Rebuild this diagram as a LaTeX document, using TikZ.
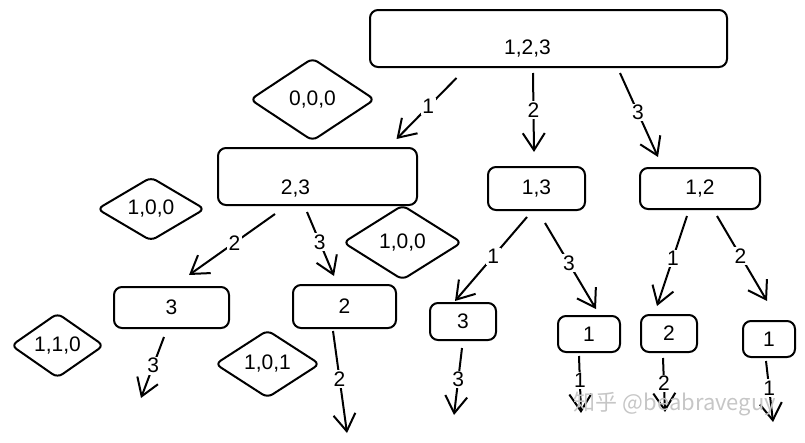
\documentclass[tikz,border=0pt]{standalone}
\usepackage{fontspec}
\setmainfont{Liberation Sans}
\newfontfamily\cjkfont{Noto Sans CJK SC}
\usetikzlibrary{positioning,calc,arrows.meta,shapes.geometric}
\newcommand{\testo}{\fontsize{21}{25}\selectfont}

\begin{document}
\begin{tikzpicture}[x=1pt,y=-1pt,
    every node/.style={font=\testo},
    every label/.style={font=\testo},
    box/.style={draw, line width=2pt, rounded corners=8pt, inner sep=0pt},
    stato/.style={draw, diamond, line width=2pt, rounded corners=6pt, inner sep=0pt},
    ramo/.style={line width=2pt, -{Straight Barb[length=17pt,width=22pt]}},
    etich/.style={fill=white, inner sep=1.5pt, pos=0.47}]
  \useasboundingbox (0,0) rectangle (805,442);
  % insiemi residui
  \node[box, minimum width=357pt, minimum height=57pt, label={[xshift=-21pt,yshift=-10pt]center:{1,2,3}}] (r123) at (548.5,38.5) {};
  \node[box, minimum width=199pt, minimum height=57pt, label={[xshift=-22pt,yshift=-12pt]center:{2,3}}] (s23) at (317.5,176.5) {};
  \node[box, minimum width=97pt, minimum height=43pt] (s13) at (536.5,188.5) {1,3};
  \node[box, minimum width=120pt, minimum height=41pt] (s12) at (700,188.5) {1,2};
  \node[box, minimum width=115pt, minimum height=41pt] (s3a) at (171.5,307.5) {3};
  \node[box, minimum width=103pt, minimum height=43pt] (s2a) at (344.5,306.5) {2};
  \node[box, minimum width=66pt, minimum height=37pt] (s3b) at (463,321.5) {3};
  \node[box, minimum width=62pt, minimum height=36pt] (s1a) at (589,334) {1};
  \node[box, minimum width=56pt, minimum height=37pt] (s2b) at (669,333.5) {2};
  \node[box, minimum width=52pt, minimum height=36pt] (s1b) at (769,339) {1};
  % vettori dei visitati
  \node[stato, minimum width=125pt, minimum height=83pt] (v000) at (312.5,99.5) {0,0,0};
  \node[stato, minimum width=108pt, minimum height=62pt] (v100a) at (151,209) {1,0,0};
  \node[stato, minimum width=119pt, minimum height=75pt] (v100b) at (402.5,242.5) {1,0,0};
  \node[stato, minimum width=93pt, minimum height=65pt] (v110) at (57.5,345.5) {1,1,0};
  \node[stato, minimum width=105pt, minimum height=68pt] (v101) at (267.5,364) {1,0,1};
  % foglie
  \coordinate (f3a) at (141,398);
  \coordinate (f2a) at (347,433);
  \coordinate (f3b) at (454,415);
  \coordinate (f1a) at (581,413);
  \coordinate (f2b) at (665,412);
  \coordinate (f1b) at (773,422);
  % rami
  \draw[ramo] ($(r123.south)+(-92,10)$) -- node[etich]{1} ($(s23.north)+(79,-8)$);
  \draw[ramo] ($(r123.south)+(-15.5,5)$) -- node[etich]{2} ($(s13.north)+(-2.5,-14)$);
  \draw[ramo] ($(r123.south)+(71.5,5)$) -- node[etich]{3} ($(s12.north)+(-42,-10)$);
  \draw[ramo] ($(s23.south)+(-42.5,8)$) -- node[etich]{2} ($(s3a.north)+(17.5,-11)$);
  \draw[ramo] ($(s23.south)+(-10.5,6)$) -- node[etich]{3} ($(s2a.north)+(-10.5,-8)$);
  \draw[ramo] ($(s13.south)+(-9.5,6)$) -- node[etich]{1} ($(s3b.north)+(-8,-1)$);
  \draw[ramo] ($(s13.south)+(8.5,12)$) -- node[etich]{3} ($(s1a.north)+(7,-6)$);
  \draw[ramo] ($(s12.south)+(-13,6)$) -- node[etich]{1} ($(s2b.north)+(-12,-8)$);
  \draw[ramo] ($(s12.south)+(17,6)$) -- node[etich]{2} ($(s1b.north)+(-2,-19)$);
  \draw[ramo] ($(s3a.south)+(-7.5,8)$) -- node[etich]{3} (f3a);
  \draw[ramo] ($(s2a.south)+(-11.5,2)$) -- node[etich]{2} (f2a);
  \draw[ramo] ($(s3b.south)+(-1,7)$) -- node[etich]{3} (f3b);
  \draw[ramo] ($(s1a.south)+(-10,3)$) -- node[etich, pos=0.43]{1} (f1a);
  \draw[ramo] ($(s2b.south)+(-6,5)$) -- node[etich]{2} (f2b);
  \draw[ramo] ($(s1b.south)+(-3,3)$) -- node[etich, pos=0.44]{1} (f1b);
  \node[text=gray!45, font=\cjkfont\fontsize{22}{26}\selectfont] (wm) at (675,404) {知乎 @beabraveguy};
\end{tikzpicture}
\end{document}
